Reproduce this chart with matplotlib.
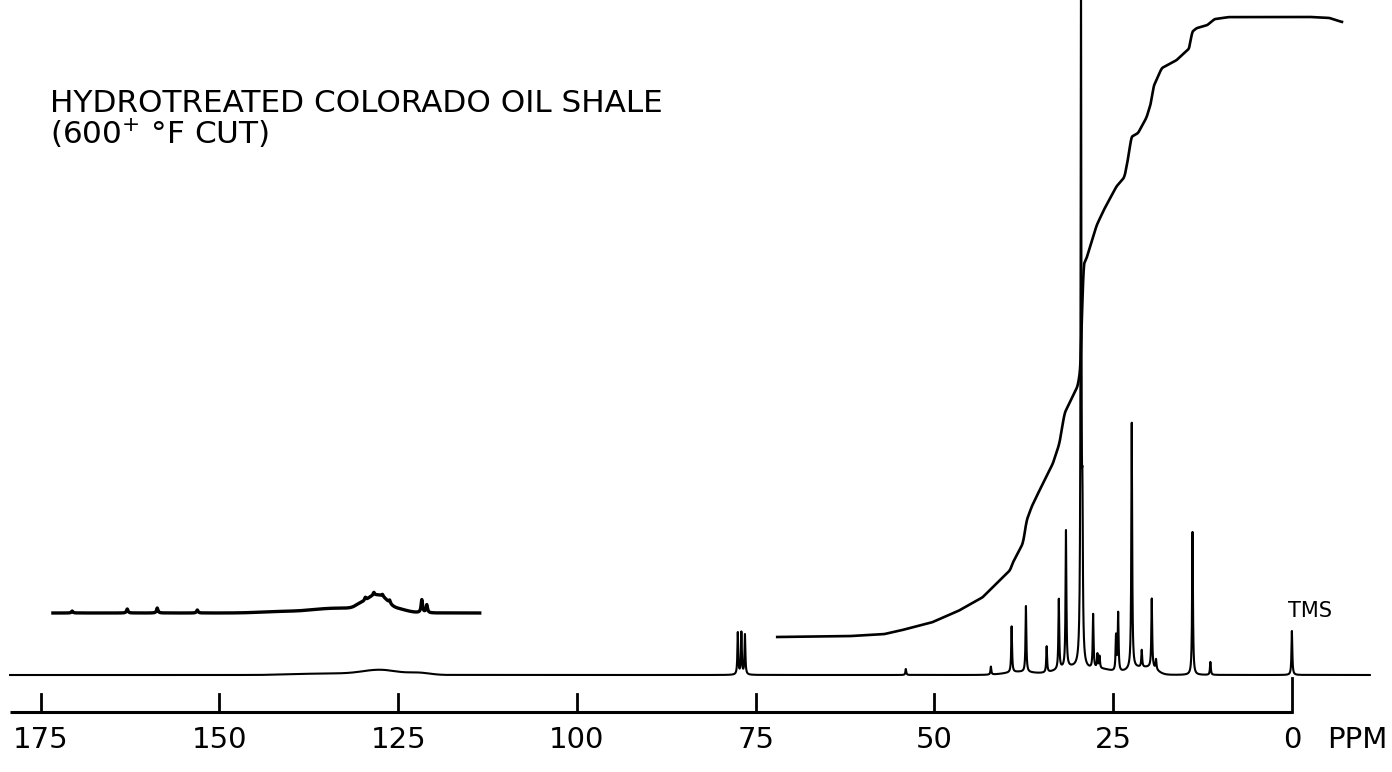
import numpy as np
import matplotlib.pyplot as plt

# 13C NMR of hydrotreated oil shale, chart units: ppm across, pen height (px) up
# sharp lines: position (ppm), height
peak_ppm = [77.5, 77.0, 76.5, 54.0, 42.1, 39.2, 37.2, 34.3, 32.6, 31.6, 29.5, 29.3,
            27.8, 27.2, 26.9, 24.6, 24.3, 22.4, 21.0, 19.6, 19.0, 13.9, 11.4, 0.0]
peak_h = [42, 42, 40, 6, 8, 46, 66, 26, 70, 137, 668, 125,
          54, 14, 12, 35, 58, 246, 17, 69, 10, 143, 13, 44]

# broad humps under the main trace: centre, height, width
hump_ppm = [127.5, 122.0, 135.0, 38.0, 31.0, 26.5, 21.5, 19.5]
hump_h = [5, 2, 1.5, 3, 7, 5, 7, 4]
hump_w = [2.5, 1.5, 4.0, 2.0, 2.0, 1.5, 1.5, 0.8]

# aromatic region recorded at higher gain
arom_base = 62
arom_ppm = [173.3, 113.6]
arom_hump_ppm = [141.0, 135.2, 130.5, 130.0, 128.8, 127.8, 126.8, 125.5]
arom_hump_h = [1.5, 3, 4, 6, 7, 10, 6, 4]
arom_hump_w = [3.0, 2.5, 3.0, 0.8, 0.6, 0.7, 0.7, 1.5]
arom_spike_ppm = [170.6, 162.9, 158.7, 153.1, 129.6, 128.4, 127.2, 126.2,
                  121.7, 121.0]
arom_spike_h = [2, 4, 5, 3, 3, 3, 2, 3, 13, 8]

# integral trace
int_ppm = [72.0, 61.4, 56.9, 53.9, 50.2, 46.4, 43.2, 41.8, 39.4, 39.0, 37.6, 37.1,
           36.3, 34.8, 33.4, 32.5, 31.8, 31.1, 29.9, 29.5, 29.2, 28.7, 27.3, 26.1,
           24.5, 23.4, 22.7, 22.5, 21.5, 20.3, 19.6, 19.4, 18.2, 16.1, 14.3, 14.0,
           13.3, 11.8, 10.8, 8.7, -2.9, -5.3, -7.0]
int_y = [38, 39, 41, 46, 53, 65, 78, 88, 105, 113, 132, 155,
         170, 192, 212, 232, 262, 272, 290, 312, 410, 417, 450, 468,
         489, 498, 525, 538, 542, 558, 575, 588, 607, 615, 627, 643,
         647, 650, 656, 658, 658, 657, 653]

axis_ticks = [175, 150, 125, 100, 75, 50, 25, 0]

ppm = np.arange(-10.9, 179.3, 0.01)


def lorentz(x, c, h, w):
    return h / (1 + ((x - c) / w) ** 2)


def gauss(x, c, h, w):
    return h * np.exp(-0.5 * ((x - c) / w) ** 2)


def smooth(y, n):
    pad = np.concatenate([np.full(n, y[0]), y, np.full(n, y[-1])])
    k = np.ones(2 * n + 1) / (2 * n + 1)
    return np.convolve(pad, k, mode='valid')


spec = np.zeros_like(ppm)
for c, h in zip(peak_ppm, peak_h):
    spec += lorentz(ppm, c, h, 0.07)
for c, h, w in zip(hump_ppm, hump_h, hump_w):
    spec += gauss(ppm, c, h, w)

xa = np.arange(arom_ppm[1], arom_ppm[0], 0.02)
arom = np.full_like(xa, arom_base, dtype=float)
for c, h, w in zip(arom_hump_ppm, arom_hump_h, arom_hump_w):
    arom += gauss(xa, c, h, w)
for c, h in zip(arom_spike_ppm, arom_spike_h):
    arom += lorentz(xa, c, h, 0.12)

# resample the integral on a fine grid and round off the corners
xi = np.arange(-7.0, 72.0, 0.01)
yi = np.interp(xi, int_ppm[::-1], int_y[::-1])
yi = smooth(yi, 20)

fig = plt.figure(figsize=(13.92, 7.72), dpi=100)
ax = fig.add_axes([0, 0, 1, 1])
ax.set_xlim(180.7, -14.0)
ax.set_ylim(-97, 675)
ax.axis('off')

ax.plot(ppm, spec, color='black', lw=1.5)
ax.plot(xa, arom, color='black', lw=2.4)
ax.plot(xi, yi, color='black', lw=1.9)

# ppm scale
ax.plot([179.3, 0], [-37, -37], color='black', lw=2.2, solid_capstyle='butt')
for t in axis_ticks:
    top = -3 if t == 0 else -19
    ax.plot([t, t], [-37, top], color='black', lw=2.0)
    ax.text(t, -65, str(t), ha='center', va='center', fontsize=21)
ax.text(-9.2, -65, 'PPM', ha='center', va='center', fontsize=21)

ax.text(-2.5, 64, 'TMS', ha='center', va='center', fontsize=15)

fig.text(50 / 1392, 1 - 103 / 772, 'HYDROTREATED COLORADO OIL SHALE',
         ha='left', va='center', fontsize=22.4)
fig.text(50 / 1392, 1 - 133 / 772, '(600$^{+}$ °F CUT)',
         ha='left', va='center', fontsize=22.4)

fig.savefig('out.png', dpi=100, facecolor='white')
